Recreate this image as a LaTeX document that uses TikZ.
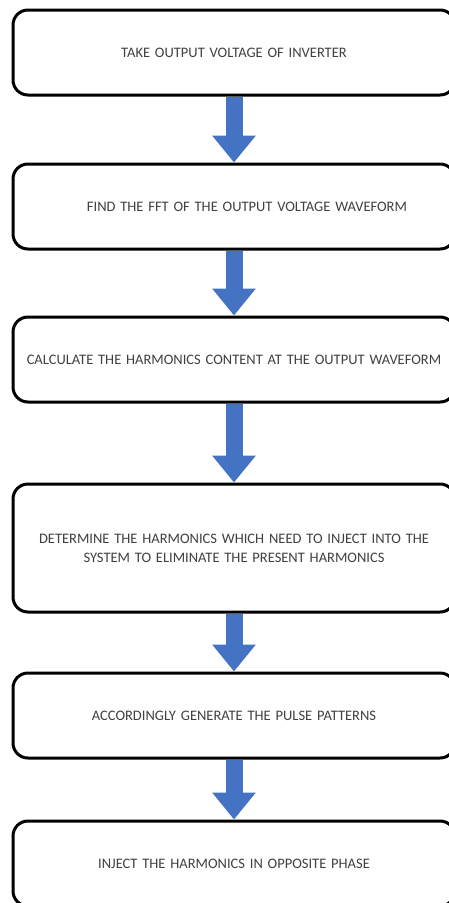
\documentclass[tikz,border=0pt]{standalone}
\usepackage{fontspec}
\setmainfont{Carlito}
\usetikzlibrary{arrows.meta}
\usetikzlibrary{positioning}
\usetikzlibrary{backgrounds}
\tikzset{stepbox/.style = {draw, line width=3pt, rounded corners=15pt, fill=white,
                           minimum width=442pt, minimum height=85pt, text width=430pt,
                           align=center, text=black!75,
                           font=\fontsize{14.5}{19}\selectfont}}
\tikzset{blockarrow/.style = {line width=17pt, draw=ablue,
                              -{Triangle[length=27pt, width=42pt]}}}
\definecolor{ablue}{rgb}{0.27, 0.45, 0.77}

\begin{document}
\begin{tikzpicture}
      \path [use as bounding box, clip] (0, 0) rectangle (449pt, -903pt);
      \node [stepbox] (take) at (234pt, -52.5pt) {TAKE OUTPUT VOLTAGE OF INVERTER};
      \node [stepbox, below = 66pt of take] (fft) {\hspace*{26pt}FIND THE FFT OF THE OUTPUT VOLTAGE WAVEFORM};
      \node [stepbox, below = 65pt of fft] (calc) {CALCULATE THE HARMONICS CONTENT AT THE OUTPUT WAVEFORM};
      \node [stepbox, below = 79pt of calc, minimum height=128pt] (determine) {DETERMINE THE HARMONICS WHICH NEED TO INJECT INTO THE\\ SYSTEM TO ELIMINATE THE PRESENT HARMONICS};
      \node [stepbox, below = 58pt of determine] (pulse) {ACCORDINGLY GENERATE THE PULSE PATTERNS};
      \node [stepbox, below = 60pt of pulse] (inject) {INJECT THE HARMONICS IN OPPOSITE PHASE};
      \begin{scope}[on background layer]
        \fill [white] (0, 0) rectangle (449pt, -903pt);
        \foreach \a/\b in {take/fft, fft/calc, calc/determine, determine/pulse, pulse/inject}
          \draw [blockarrow] (\a.south) -- (\b.north);
      \end{scope}
    \end{tikzpicture}
\end{document}
